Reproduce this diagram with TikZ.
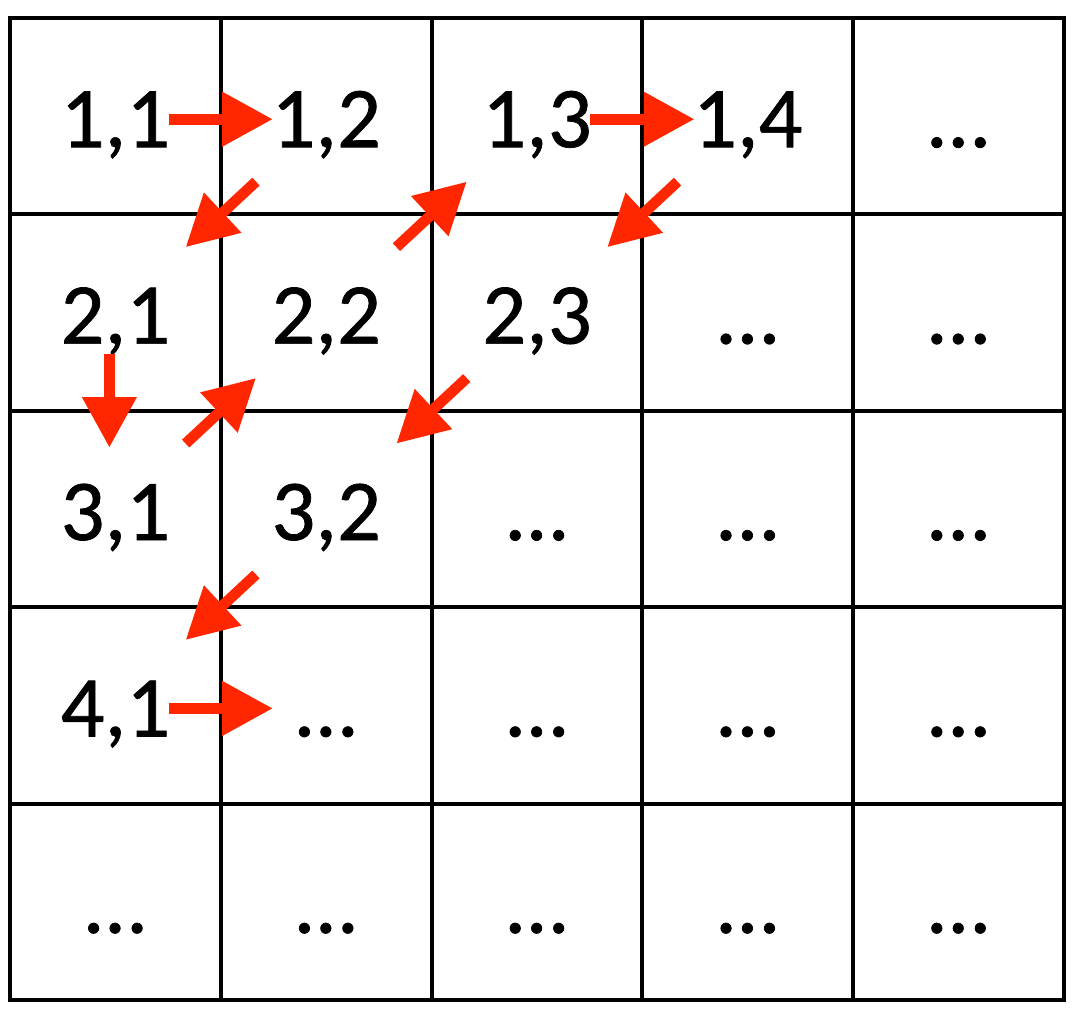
\documentclass[tikz,border=0pt]{standalone}
\usepackage{fontspec}
\setmainfont[BoldFont=Carlito, BoldFeatures={FakeBold=0.8}]{Carlito}
\usetikzlibrary{arrows.meta}
\definecolor{arrowred}{RGB}{255,38,0}

\begin{document}
\begin{tikzpicture}[x=0.75pt,y=0.75pt,yscale=-1,xscale=1,
  cell/.style={draw, line width=3pt, minimum width=158.1pt, minimum height=147.3pt,
    inner sep=0pt, text height=46.5pt, text depth=0pt, font=\fontsize{65}{78}\selectfont\bfseries},
  arr/.style={draw=arrowred, line width=8pt, -{Triangle[length=38pt,width=39pt]}},
  hor/.style={arr, shorten <=40pt, shorten >=40pt, transform canvas={yshift=-2.25pt}},
  diag/.style={arr, shorten <=72pt, shorten >=72pt},
  vert/.style={arr, shorten <=31pt, shorten >=46pt}]
\useasboundingbox (0,0) rectangle (1076,1018);

% Row 1
\node[cell] (c11) at (115.4,116.2) {1,1};
\node[cell] (c12) at (326.2,116.2) {1,2};
\node[cell] (c13) at (537,116.2) {1,3};
\node[cell] (c14) at (747.8,116.2) {1,4};
\node[cell] (c15) at (958.6,116.2) {…};
% Row 2
\node[cell] (c21) at (115.4,312.6) {2,1};
\node[cell] (c22) at (326.2,312.6) {2,2};
\node[cell] (c23) at (537,312.6) {2,3};
\node[cell] (c24) at (747.8,312.6) {…};
\node[cell] (c25) at (958.6,312.6) {…};
% Row 3
\node[cell] (c31) at (115.4,509) {3,1};
\node[cell] (c32) at (326.2,509) {3,2};
\node[cell] (c33) at (537,509) {…};
\node[cell] (c34) at (747.8,509) {…};
\node[cell] (c35) at (958.6,509) {…};
% Row 4
\node[cell] (c41) at (115.4,705.4) {4,1};
\node[cell] (c42) at (326.2,705.4) {…};
\node[cell] (c43) at (537,705.4) {…};
\node[cell] (c44) at (747.8,705.4) {…};
\node[cell] (c45) at (958.6,705.4) {…};
% Row 5
\node[cell] (c51) at (115.4,901.8) {…};
\node[cell] (c52) at (326.2,901.8) {…};
\node[cell] (c53) at (537,901.8) {…};
\node[cell] (c54) at (747.8,901.8) {…};
\node[cell] (c55) at (958.6,901.8) {…};

% Zigzag arrows
\draw[hor] (c11.center) -- (c12.center);
\draw[diag] (c12.center) -- (c21.center);
\draw[vert] ([xshift=-4.5pt]c21.center) -- ([xshift=-4.5pt]c31.center);
\draw[diag] (c31.center) -- (c22.center);
\draw[diag] (c22.center) -- (c13.center);
\draw[hor] (c13.center) -- (c14.center);
\draw[diag] (c14.center) -- (c23.center);
\draw[diag] (c23.center) -- (c32.center);
\draw[diag] (c32.center) -- (c41.center);
\draw[hor] (c41.center) -- (c42.center);

\end{tikzpicture}
\end{document}
